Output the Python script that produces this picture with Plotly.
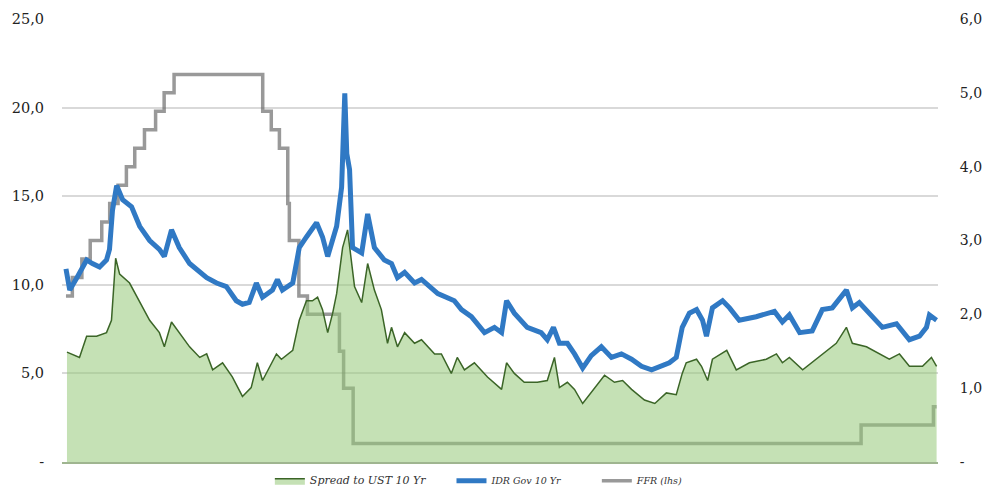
import plotly.graph_objects as go

# Fed funds target rate (right scale, 0-6)
ffr_dates = ["2005-01-01", "2005-02-02", "2005-03-22", "2005-05-03", "2005-06-30", "2005-08-09",
             "2005-09-20", "2005-11-01", "2005-12-13", "2006-01-31", "2006-03-28", "2006-05-10",
             "2006-06-29", "2007-09-18", "2007-10-31", "2007-12-11", "2008-01-22", "2008-01-30",
             "2008-03-18", "2008-04-30", "2008-10-08", "2008-10-29", "2008-12-16", "2015-12-16",
             "2016-12-14", "2016-12-30"]
ffr_vals = [2.25, 2.5, 2.75, 3.0, 3.25, 3.5, 3.75, 4.0, 4.25, 4.5, 4.75, 5.0,
            5.25, 4.75, 4.5, 4.25, 3.5, 3.0, 2.25, 2.0, 1.5, 1.0, 0.25, 0.5, 0.75, 0.75]

# IDR government 10 year yield (left scale, 0-25)
idr_dates = ["2005-01-01", "2005-01-20", "2005-02-25", "2005-04-15", "2005-05-14", "2005-06-19",
             "2005-07-24", "2005-08-08", "2005-08-23", "2005-09-13", "2005-10-13", "2005-11-27",
             "2006-01-07", "2006-02-26", "2006-04-16", "2006-05-11", "2006-06-16", "2006-07-25",
             "2006-09-15", "2006-11-05", "2006-12-10", "2007-01-29", "2007-03-19", "2007-05-08",
             "2007-06-08", "2007-07-12", "2007-08-17", "2007-09-17", "2007-11-06", "2007-12-01",
             "2007-12-26", "2008-02-16", "2008-03-20", "2008-04-25", "2008-06-15", "2008-07-15",
             "2008-08-10", "2008-09-24", "2008-10-19", "2008-11-04", "2008-11-14", "2008-11-28",
             "2008-12-13", "2009-01-28", "2009-02-27", "2009-04-02", "2009-05-22", "2009-06-27",
             "2009-07-27", "2009-09-01", "2009-10-21", "2009-11-25", "2010-02-15", "2010-05-09",
             "2010-06-14", "2010-08-03", "2010-10-08", "2010-11-27", "2011-01-02", "2011-01-27",
             "2011-03-07", "2011-05-11", "2011-07-20", "2011-08-20", "2011-09-20", "2011-10-20",
             "2011-11-29", "2012-01-04", "2012-02-14", "2012-03-28", "2012-05-18", "2012-07-08",
             "2012-08-27", "2012-10-17", "2012-12-06", "2013-01-26", "2013-04-25", "2013-05-30",
             "2013-06-29", "2013-08-04", "2013-09-09", "2013-10-09", "2013-10-29", "2013-11-28",
             "2014-01-18", "2014-02-22", "2014-04-12", "2014-07-06", "2014-10-06", "2014-11-15",
             "2014-12-20", "2015-02-10", "2015-04-14", "2015-06-04", "2015-07-24", "2015-10-03",
             "2015-11-02", "2015-12-07", "2016-02-12", "2016-04-01", "2016-06-11", "2016-08-15",
             "2016-10-05", "2016-11-09", "2016-11-24", "2016-12-30"]
idr_vals = [10.9, 9.7, 10.4, 11.4, 11.2, 11.0,
            11.4, 12.0, 14.2, 15.6, 14.8, 14.4,
            13.3, 12.5, 12.0, 11.6, 13.1, 12.1,
            11.2, 10.7, 10.4, 10.1, 9.9, 9.1,
            8.9, 9.0, 10.1, 9.3, 9.7, 10.3,
            9.7, 10.1, 12.1, 12.7, 13.5, 12.7,
            11.6, 13.3, 15.5, 20.8, 17.4, 16.5,
            12.1, 11.8, 14.0, 12.1, 11.4, 11.2,
            10.4, 10.7, 10.1, 10.3, 9.5, 9.1,
            8.6, 8.2, 7.3, 7.6, 7.3, 9.1,
            8.4, 7.6, 7.3, 6.9, 7.6, 6.7,
            6.7, 6.1, 5.3, 6.0, 6.5, 5.9,
            6.1, 5.8, 5.4, 5.2, 5.6, 5.9,
            7.6, 8.4, 8.6, 8.0, 7.1, 8.7,
            9.1, 8.7, 8.0, 8.2, 8.5, 7.9,
            8.3, 7.3, 7.4, 8.6, 8.7, 9.7,
            8.7, 9.0, 8.2, 7.6, 7.8, 6.9,
            7.1, 7.6, 8.3, 8.0]

# Spread to UST 10 year (left scale, 0-25)
spread_dates = ["2005-01-06", "2005-03-10", "2005-04-15", "2005-06-04", "2005-07-24", "2005-08-18",
                "2005-09-08", "2005-09-28", "2005-11-17", "2006-01-07", "2006-02-26", "2006-04-16",
                "2006-05-11", "2006-06-16", "2006-07-25", "2006-09-15", "2006-11-05", "2006-12-10",
                "2007-01-09", "2007-02-28", "2007-04-18", "2007-06-08", "2007-07-22", "2007-08-22",
                "2007-09-17", "2007-11-26", "2007-12-21", "2008-02-16", "2008-03-20", "2008-04-25",
                "2008-05-25", "2008-06-20", "2008-07-15", "2008-08-10", "2008-09-04", "2008-09-24",
                "2008-10-24", "2008-11-18", "2008-12-23", "2009-01-28", "2009-02-27", "2009-04-02",
                "2009-05-07", "2009-06-07", "2009-06-27", "2009-07-27", "2009-09-01", "2009-10-21",
                "2009-11-25", "2010-01-30", "2010-03-05", "2010-04-24", "2010-05-24", "2010-06-29",
                "2010-08-18", "2010-10-23", "2011-01-02", "2011-01-27", "2011-03-07", "2011-04-26",
                "2011-07-01", "2011-08-20", "2011-09-25", "2011-10-20", "2011-11-29", "2012-01-04",
                "2012-02-14", "2012-03-28", "2012-06-03", "2012-07-23", "2012-09-02", "2012-10-17",
                "2012-12-21", "2013-02-11", "2013-04-10", "2013-05-30", "2013-06-29", "2013-07-19",
                "2013-09-09", "2013-10-04", "2013-11-04", "2013-11-28", "2014-02-08", "2014-03-28",
                "2014-06-02", "2014-08-26", "2014-10-16", "2014-11-15", "2014-12-20", "2015-02-25",
                "2015-05-04", "2015-06-24", "2015-08-13", "2015-10-03", "2015-11-02", "2016-01-12",
                "2016-03-17", "2016-05-06", "2016-06-26", "2016-08-15", "2016-10-20", "2016-12-04",
                "2016-12-30"]
spread_vals = [6.2, 5.9, 7.1, 7.1, 7.3, 8.0,
               11.5, 10.6, 10.1, 9.0, 8.0, 7.3,
               6.5, 7.9, 7.3, 6.5, 5.9, 6.1,
               5.2, 5.6, 4.8, 3.7, 4.2, 5.6,
               4.6, 6.1, 5.8, 6.3, 8.0, 9.1,
               9.1, 9.3, 8.6, 7.3, 8.4, 9.5,
               12.1, 13.1, 9.9, 9.0, 11.2, 9.7,
               8.6, 6.7, 7.6, 6.5, 7.3, 6.7,
               6.9, 6.1, 6.1, 5.0, 5.9, 5.2,
               5.6, 4.8, 4.1, 5.6, 5.0, 4.5,
               4.5, 4.6, 5.9, 4.2, 4.5, 4.1,
               3.3, 3.9, 4.9, 4.5, 4.6, 4.1,
               3.5, 3.3, 3.9, 3.8, 5.0, 5.6,
               5.8, 5.4, 4.6, 5.8, 6.3, 5.2,
               5.6, 5.8, 6.1, 5.6, 5.9, 5.2,
               5.8, 6.3, 6.7, 7.6, 6.7, 6.5,
               6.1, 5.8, 6.1, 5.4, 5.4, 5.9,
               5.4]

left_ticks = [0, 5, 10, 15, 20, 25]
left_labels = ["-", "5,0", "10,0", "15,0", "20,0", "25,0"]
right_ticks = [0, 1, 2, 3, 4, 5, 6]
right_labels = ["-", "1,0", "2,0", "3,0", "4,0", "5,0", "6,0"]

series_names = ["Spread to UST 10 Yr", "IDR Gov 10 Yr", "FFR (lhs)"]
nb = "\u00a0"

fig = go.Figure()
fig.add_trace(go.Scatter(
    x=ffr_dates, y=ffr_vals, name=series_names[2], yaxis="y", mode="lines",
    line=dict(shape="hv", color="rgba(105,105,105,0.68)", width=3.5), legendrank=3))
fig.add_trace(go.Scatter(
    x=spread_dates, y=spread_vals,
    name='<span style="font-size:11px">' + series_names[0] + nb * 6 + '</span>',
    yaxis="y2", mode="lines",
    fill="tozeroy", fillcolor="rgba(150,200,120,0.55)",
    line=dict(color="#3b6527", width=1.5), legendrank=1))
fig.add_trace(go.Scatter(
    x=idr_dates, y=idr_vals, name=series_names[1] + nb * 10, yaxis="y2", mode="lines",
    line=dict(color="#3079c4", width=5), legendrank=2))

tickfont = dict(family="DejaVu Serif", size=14.5, color="#222222")
tickfont_r = dict(family="DejaVu Serif", size=14, color="#222222")
fig.update_layout(
    width=982, height=478,
    margin=dict(l=54, r=52, t=11, b=24),
    paper_bgcolor="white", plot_bgcolor="white",
    showlegend=True,
    legend=dict(orientation="h", x=0.48, xanchor="center", xref="container",
                y=0.011, yanchor="middle", yref="container",
                font=dict(family="DejaVu Serif", size=9.5, color="#333333", style="italic"),
                bgcolor="rgba(0,0,0,0)"),
    xaxis=dict(range=["2004-12-12", "2017-01-06"], showgrid=False, zeroline=False,
               showticklabels=False, showline=True, linecolor="#9fb590", linewidth=2,
               automargin=False),
    yaxis=dict(side="right", range=[0, 6], tickvals=right_ticks, ticktext=right_labels,
               showgrid=False, zeroline=False, ticks="outside", ticklen=18,
               tickcolor="rgba(0,0,0,0)", tickfont=tickfont_r, automargin=False),
    yaxis2=dict(side="left", overlaying="y", range=[0, 25], tickvals=left_ticks,
                ticktext=left_labels, showgrid=True, gridcolor="#d9d9d9", gridwidth=1.5,
                zeroline=False, ticks="outside", ticklen=14, tickcolor="rgba(0,0,0,0)",
                tickfont=tickfont, automargin=False),
)

fig.write_html("out.html")
